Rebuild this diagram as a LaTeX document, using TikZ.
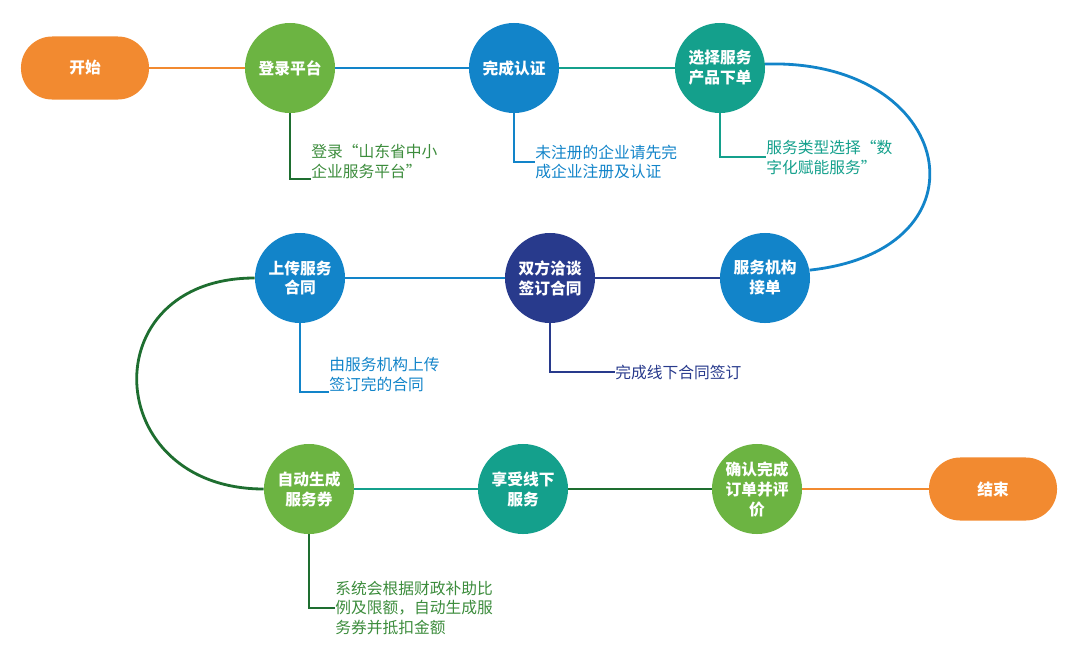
\documentclass[tikz,border=0pt]{standalone}
\usepackage{fontspec}
\setmainfont{Noto Sans CJK SC}
\usepackage{xcolor}
\definecolor{orange_flow}{RGB}{242,138,48}
\definecolor{green_flow}{RGB}{108,180,66}
\definecolor{blue_flow}{RGB}{18,132,201}
\definecolor{teal_flow}{RGB}{20,160,140}
\definecolor{navy_flow}{RGB}{40,58,140}
\definecolor{darkgreen_flow}{RGB}{30,110,48}
\definecolor{note_green}{RGB}{60,140,60}
\usepackage{tikz}
\usetikzlibrary{positioning}

\begin{document}
\begin{tikzpicture}
[	x=0.025cm, y=-0.025cm,
	stepnode/.style={circle, fill=#1, minimum size=2.25cm, inner sep=0pt, text=white, align=center,
		font=\bfseries\fontsize{11.2}{14.2}\selectfont},
	endpill/.style={rectangle, rounded corners=0.78cm, fill=orange_flow, minimum width=3.2cm, minimum height=1.575cm,
		text=white, font=\bfseries\fontsize{11.2}{14.2}\selectfont},
	flow/.style={line width=2pt},
	noteline/.style={line width=1.3pt},
	note/.style={inner sep=0pt, align=left, text=#1, font=\fontsize{11.2}{14.2}\selectfont}
]
\useasboundingbox (0,0) rectangle (1080,671);

% row 1
\node(start)[endpill] at (85,68) {开始};
\node(login)[stepnode=green_flow] at (290,68) {登录平台};
\node(auth)[stepnode=blue_flow] at (514,68) {完成认证};
\node(order)[stepnode=teal_flow] at (720,68) {选择服务\\产品下单};

% row 2
\node(accept)[stepnode=blue_flow] at (765,278) {服务机构\\接单};
\node(sign)[stepnode=navy_flow] at (550,278) {双方洽谈\\签订合同};
\node(upload)[stepnode=blue_flow] at (300,278) {上传服务\\合同};

% row 3
\node(voucher)[stepnode=green_flow] at (309,489) {自动生成\\服务券};
\node(enjoy)[stepnode=teal_flow] at (523,489) {享受线下\\服务};
\node(confirm)[stepnode=green_flow] at (757,489) {确认完成\\订单并评\\价};
\node(finish)[endpill] at (993,489) {结束};

% flow lines
\draw[flow, orange_flow](start.east)--(login.west);
\draw[flow, blue_flow](login.east)--(auth.west);
\draw[flow, teal_flow](auth.east)--(order.west);
\draw[flow, blue_flow](order.5) .. controls (955,58) and (995,250) .. (accept.10);
\draw[flow, navy_flow](accept.west)--(sign.east);
\draw[flow, blue_flow](sign.west)--(upload.east);
\draw[flow, darkgreen_flow](upload.west) .. controls (91,278) and (101,489) .. (voucher.west);
\draw[flow, teal_flow](voucher.east)--(enjoy.west);
\draw[flow, darkgreen_flow](enjoy.east)--(confirm.west);
\draw[flow, orange_flow](confirm.east)--(finish.west);

% notes
\node(loginnote)[note=note_green, anchor=south west] at (311,179) {登录“山东省中小\\企业服务平台”};
\node(authnote)[note=blue_flow, anchor=west] at (535,162) {未注册的企业请先完\\成企业注册及认证};
\node(ordernote)[note=teal_flow, anchor=west] at (766,157) {服务类型选择“数\\字化赋能服务”};
\node(uploadnote)[note=blue_flow, anchor=south west] at (329,392) {由服务机构上传\\签订完的合同};
\node(signnote)[note=navy_flow, anchor=west] at (615,372) {完成线下合同签订};
\node(vouchernote)[note=note_green, anchor=west] at (335,608) {系统会根据财政补助比\\例及限额，自动生成服\\务券并抵扣金额};

% note lines
\draw[noteline, darkgreen_flow](login.south) |- (loginnote.south west);
\draw[noteline, blue_flow](auth.south) |- (authnote.west);
\draw[noteline, teal_flow](order.south) |- (ordernote.west);
\draw[noteline, blue_flow](upload.south) |- (uploadnote.south west);
\draw[noteline, navy_flow](sign.south) |- (signnote.west);
\draw[noteline, darkgreen_flow](voucher.south) |- (vouchernote.west);

\end{tikzpicture}
\end{document}
